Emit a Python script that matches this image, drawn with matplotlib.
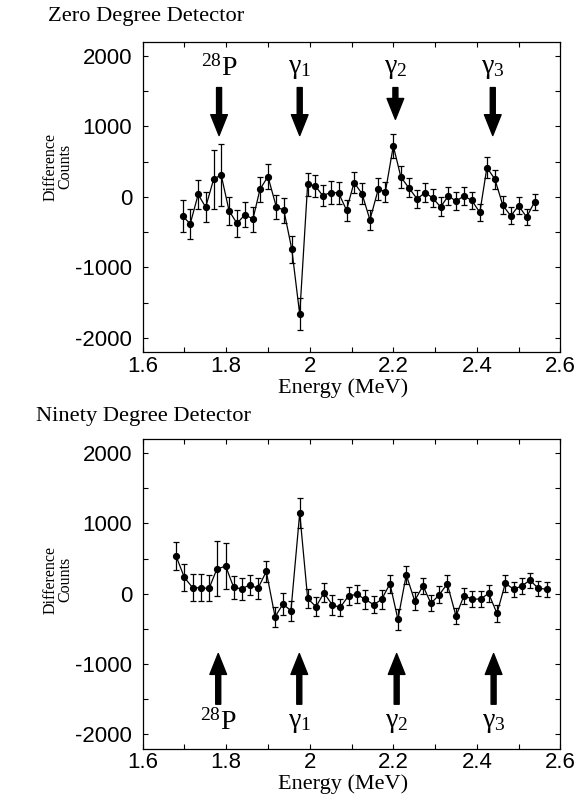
import matplotlib
matplotlib.use("Agg")
import matplotlib.pyplot as plt
from matplotlib.ticker import MultipleLocator, FixedLocator

plt.rcParams['mathtext.fontset'] = 'custom'
plt.rcParams['mathtext.rm'] = 'Liberation Serif'
plt.rcParams['mathtext.it'] = 'Liberation Serif'
plt.rcParams['mathtext.bf'] = 'Liberation Serif:bold'

# ---------------- data ----------------
zero_energy = [1.696, 1.714, 1.733, 1.751, 1.770, 1.788, 1.807, 1.826, 1.845, 1.864,
               1.881, 1.900, 1.920, 1.938, 1.957, 1.976, 1.995, 2.013, 2.031, 2.050,
               2.069, 2.088, 2.106, 2.125, 2.144, 2.164, 2.181, 2.200, 2.218, 2.237,
               2.257, 2.276, 2.294, 2.313, 2.332, 2.350, 2.369, 2.388, 2.407, 2.424,
               2.443, 2.462, 2.481, 2.500, 2.519, 2.538]
zero_counts = [-273, -382, 34, -146, 251, 312, -198, -377, -250, -316,
               109, 288, -142, -188, -741, -1666, 180, 156, 19, 61,
               57, -188, 203, 47, -326, 109, 71, 723, 283, 128,
               -28, 61, -14, -141, 14, -61, 14, -51, -221, 416,
               251, -118, -269, -127, -287, -71]
zero_err = [225, 210, 210, 210, 420, 440, 200, 185, 180, 177,
            180, 177, 170, 177, 193, 227, 163, 160, 155, 160,
            155, 150, 150, 150, 140, 155, 140, 175, 155, 135,
            130, 130, 130, 135, 130, 125, 125, 125, 125, 150,
            135, 125, 120, 120, 118, 115]

ninety_energy = [1.680, 1.700, 1.720, 1.739, 1.759, 1.778, 1.799, 1.818, 1.837, 1.857,
                 1.876, 1.896, 1.917, 1.936, 1.955, 1.976, 1.995, 2.015, 2.034, 2.054,
                 2.073, 2.093, 2.113, 2.133, 2.153, 2.172, 2.192, 2.211, 2.231, 2.251,
                 2.271, 2.290, 2.310, 2.329, 2.350, 2.369, 2.389, 2.409, 2.428, 2.448,
                 2.468, 2.488, 2.507, 2.527, 2.547, 2.567]
ninety_counts = [538, 232, 85, 85, 76, 354, 392, 90, 71, 127,
                 76, 317, -326, -146, -241, 1147, -66, -184, 14, -160,
                 -193, -28, -9, -80, -155, -80, 142, -363, 269, -99,
                 113, -136, -14, 142, -316, -28, -75, -75, 6, -278,
                 147, 67, 109, 194, 76, 67]
ninety_err = [200, 190, 190, 190, 185, 390, 330, 165, 155, 147,
              155, 150, 140, 150, 145, 210, 140, 137, 135, 137,
              125, 128, 128, 130, 125, 135, 125, 153, 123, 130,
              115, 115, 118, 123, 120, 113, 110, 110, 123, 123,
              115, 106, 110, 106, 106, 106]

line_names = ['$^{28}$P', r'$\gamma_1$', r'$\gamma_2$', r'$\gamma_3$']
line_energy_top = [1.783, 1.976, 2.205, 2.438]
line_energy_bottom = [1.781, 1.975, 2.208, 2.440]

xtick_vals = [1.6, 1.8, 2.0, 2.2, 2.4, 2.6]
xtick_labels = ['1.6', '1.8', '2', '2.2', '2.4', '2.6']
ytick_vals = [2000, 1000, 0, -1000, -2000]
ytick_labels = ['2000', '1000', '0', '-1000', '-2000']

# ---------------- figure ----------------
fig = plt.figure(figsize=(5.82, 8.01), dpi=100)
ax1 = fig.add_axes([0.245, 0.5605, 0.718, 0.3874])
ax2 = fig.add_axes([0.245, 0.0655, 0.718, 0.3864])

serif = 'Liberation Serif'
sans = 'Liberation Sans'


def style_axis(ax, ylab_y):
    ax.set_xlim(1.6, 2.6)
    ax.set_ylim(-2200, 2200)
    ax.xaxis.set_major_locator(FixedLocator(xtick_vals))
    ax.set_xticklabels(xtick_labels, family=sans, fontsize=16)
    ax.xaxis.set_minor_locator(MultipleLocator(0.1))
    ax.yaxis.set_major_locator(FixedLocator(ytick_vals))
    ax.set_yticklabels(ytick_labels, family=sans, fontsize=16)
    ax.yaxis.set_minor_locator(MultipleLocator(500))
    ax.tick_params(which='both', direction='in', top=True, right=True,
                   length=3.5, width=0.8)
    ax.tick_params(axis='y', pad=7.5)
    ax.tick_params(axis='x', pad=2.5)
    for sp in ax.spines.values():
        sp.set_linewidth(0.9)
    ax.text(-0.203, ylab_y, 'Difference\nCounts', transform=ax.transAxes,
            rotation=90, ha='center', va='center', multialignment='center',
            family=serif, fontsize=11.5, linespacing=0.9)
    ax.set_xlabel('Energy (MeV)', family=serif, fontsize=16)
    ax.xaxis.set_label_coords(0.479, -0.083)


def plot_series(ax, x, y, e):
    ax.errorbar(x, y, yerr=e, fmt='-o', color='black', ms=4.2, lw=0.9,
                elinewidth=0.9, capsize=2.5, capthick=0.9)


plot_series(ax1, zero_energy, zero_counts, zero_err)
plot_series(ax2, ninety_energy, ninety_counts, ninety_err)
style_axis(ax1, 0.597)
style_axis(ax2, 0.545)

arrow_kw = dict(width=3.6, headwidth=12, headlength=15, color='black', shrink=0)

# top panel: arrows pointing down, labels above
top_tips = [870, 870, 1100, 870]
for name, xe, tip in zip(line_names, line_energy_top, top_tips):
    ax1.annotate('', xy=(xe, tip), xytext=(xe, 1550), arrowprops=arrow_kw)
    ax1.text(xe, 1820, name, ha='center', va='center', family=serif, fontsize=20)

# bottom panel: arrows pointing up, labels below
for name, xe in zip(line_names, line_energy_bottom):
    ax2.annotate('', xy=(xe, -850), xytext=(xe, -1570), arrowprops=arrow_kw)
    ax2.text(xe, -1830, name, ha='center', va='center', family=serif, fontsize=20)

fig.text(47.6 / 582, 1 - 17 / 801, 'Zero Degree Detector', ha='left', va='center',
         family=serif, fontsize=16.2)
fig.text(35.5 / 582, 1 - 416 / 801, 'Ninety Degree Detector', ha='left', va='center',
         family=serif, fontsize=16.2)

fig.savefig('out.png', dpi=100)
